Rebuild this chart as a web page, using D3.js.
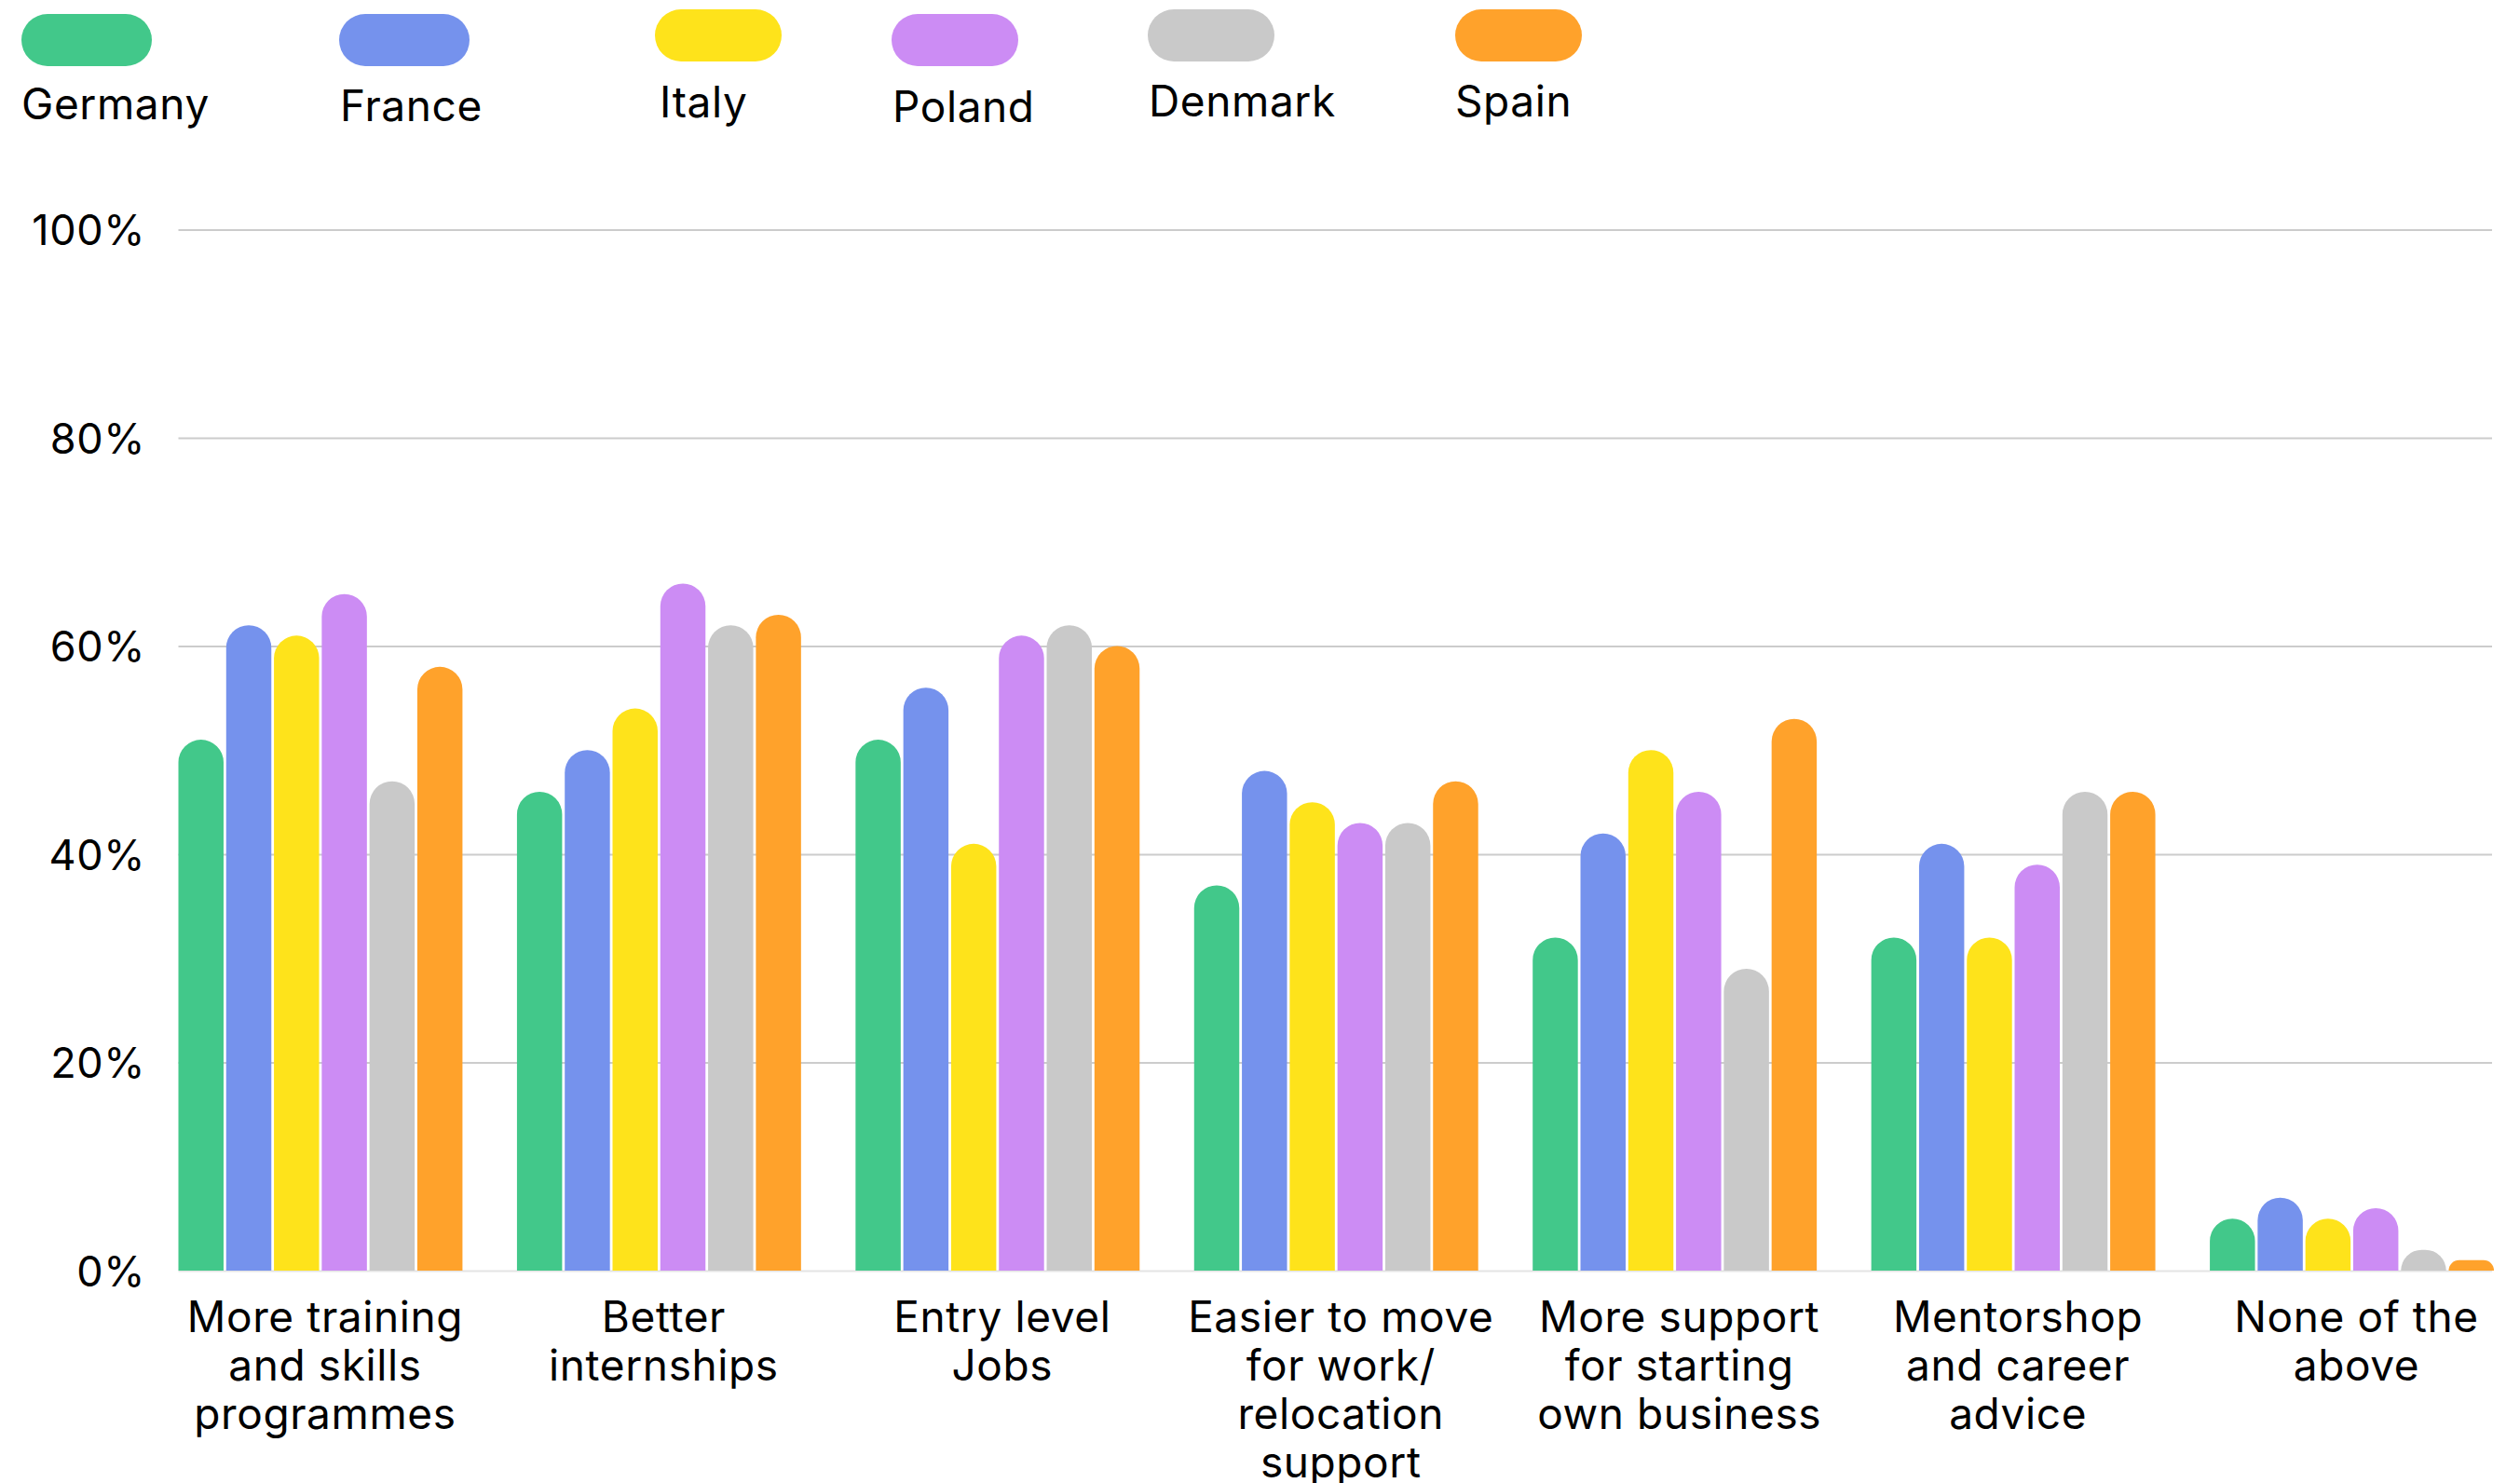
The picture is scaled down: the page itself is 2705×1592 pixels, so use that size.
<!DOCTYPE html>
<html>
<head>
<meta charset="utf-8">
<script src="https://cdn.jsdelivr.net/npm/d3@7"></script>
<style>
  html, body { margin: 0; padding: 0; background: #ffffff; }
  svg { display: block; }
  text { font-family: Inter, "Open Sans", sans-serif; fill: #000; letter-spacing: 0.6px; }
</style>
</head>
<body>
<svg id="chart" width="2705" height="1592"></svg>
<script>
// ---------- data ----------
const countries = ["Germany", "France", "Italy", "Poland", "Denmark", "Spain"];
const categories = [
  "More training and skills programmes",
  "Better internships",
  "Entry level Jobs",
  "Easier to move for work/ relocation support",
  "More support for starting own business",
  "Mentorshop and career advice",
  "None of the above"
];
const categoryLines = [
  ["More training", "and skills", "programmes"],
  ["Better", "internships"],
  ["Entry level", "Jobs"],
  ["Easier to move", "for work/", "relocation", "support"],
  ["More support", "for starting", "own business"],
  ["Mentorshop", "and career", "advice"],
  ["None of the", "above"]
];
const germany = [51, 46, 51, 37, 32, 32, 5];
const france  = [62, 50, 56, 48, 42, 41, 7];
const italy   = [61, 54, 41, 45, 50, 32, 5];
const poland  = [65, 66, 61, 43, 46, 39, 6];
const denmark = [47, 62, 62, 43, 29, 46, 2];
const spain   = [58, 63, 60, 47, 53, 46, 1];
const seriesValues = [germany, france, italy, poland, denmark, spain];
const yTicks = [0, 20, 40, 60, 80, 100];

// ---------- styles / layout ----------
const colors = ["#42C88A", "#7592ED", "#FEE31B", "#CC8CF4", "#C9C9C9", "#FFA22B"];
const legendLayout = [
  {x: 23,   y: 15, w: 140, tx: 23,   ty: 128},
  {x: 364,  y: 15, w: 140, tx: 365,  ty: 130},
  {x: 703,  y: 10, w: 136, tx: 708,  ty: 126},
  {x: 957,  y: 15, w: 136, tx: 958,  ty: 131},
  {x: 1232, y: 10, w: 136, tx: 1233, ty: 125},
  {x: 1562, y: 10, w: 136, tx: 1562, ty: 125}
];

const svg = d3.select("#chart");
const plotLeft = 191.5, plotRight = 2677, plotTop = 246.5, plotBottom = 1364;

const x0 = d3.scaleBand().domain(categories).range([plotLeft, plotRight])
  .paddingInner(0.161).paddingOuter(0);
const x1 = d3.scaleBand().domain(countries).range([0, x0.bandwidth()])
  .paddingInner(0.055).paddingOuter(0);
const y = d3.scaleLinear().domain([0, 100]).range([plotBottom, plotTop]);

// gridlines
const grid = svg.append("g").attr("transform", `translate(${plotLeft},0)`)
  .call(d3.axisLeft(y).tickValues(yTicks).tickSize(-(2675 - plotLeft)).tickFormat(""));
grid.select(".domain").remove();
grid.selectAll(".tick line")
  .attr("stroke", d => d === 0 ? "#e4e4e4" : "#cccccc")
  .attr("stroke-width", 2);

// y axis labels
const yAxis = svg.append("g").attr("transform", `translate(156,0)`)
  .call(d3.axisLeft(y).tickValues(yTicks).tickSize(0).tickPadding(0).tickFormat(d => d + "%"));
yAxis.select(".domain").remove();
yAxis.selectAll("text")
  .attr("font-size", 45)
  .attr("font-family", "Inter, sans-serif")
  .attr("fill", "#000")
  .attr("dy", "0.36em");

// bars
function barPath(xp, yTop, w, h) {
  const r = Math.min(w / 2, h);
  const yb = yTop + h;
  return `M${xp},${yb}L${xp},${yTop + r}A${r},${r} 0 0 1 ${xp + r},${yTop}` +
         `L${xp + w - r},${yTop}A${r},${r} 0 0 1 ${xp + w},${yTop + r}L${xp + w},${yb}Z`;
}

const groups = svg.append("g").selectAll("g")
  .data(categories)
  .join("g")
  .attr("transform", d => `translate(${x0(d)},0)`);

groups.selectAll("path")
  .data((c, ci) => countries.map((k, si) => ({k, si, v: seriesValues[si][ci]})))
  .join("path")
  .attr("fill", d => colors[d.si])
  .attr("d", d => barPath(x1(d.k), y(d.v), x1.bandwidth(), y(0) - y(d.v)));

// x axis labels
const xAxis = svg.append("g").attr("transform", `translate(5,${plotBottom})`)
  .call(d3.axisBottom(x0).tickSize(0).tickFormat(""));
xAxis.select(".domain").remove();
xAxis.selectAll(".tick").each(function(d, i) {
  const t = d3.select(this).append("text")
    .attr("text-anchor", "middle")
    .attr("font-size", 46)
    .attr("fill", "#000");
  categoryLines[i].forEach((line, li) => {
    t.append("tspan").attr("x", 0).attr("y", 66 + li * 52).text(line);
  });
});

// legend
const legend = svg.append("g").selectAll("g")
  .data(countries)
  .join("g");
legend.append("rect")
  .attr("x", (d, i) => legendLayout[i].x)
  .attr("y", (d, i) => legendLayout[i].y)
  .attr("width", (d, i) => legendLayout[i].w)
  .attr("height", 56)
  .attr("rx", 28)
  .attr("fill", (d, i) => colors[i]);
legend.append("text")
  .attr("x", (d, i) => legendLayout[i].tx)
  .attr("y", (d, i) => legendLayout[i].ty)
  .attr("font-size", 46)
  .text(d => d);
</script>
</body>
</html>
